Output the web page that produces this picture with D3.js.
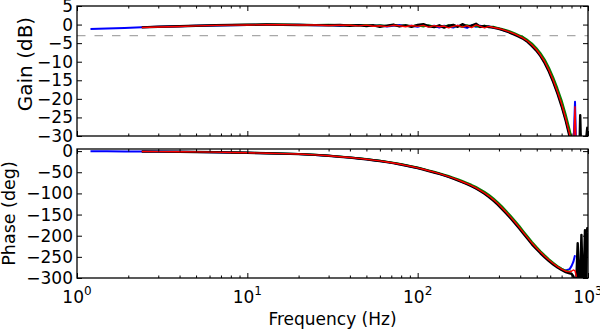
<!DOCTYPE html>
<html><head><meta charset="utf-8">
<script src="https://cdn.jsdelivr.net/npm/d3@7/dist/d3.min.js"></script>
<style>
html,body{margin:0;padding:0;background:#fff;}
text{font-family:"DejaVu Sans",sans-serif;}
</style></head>
<body><svg id="c" width="600" height="330"></svg>
<script>
const freq = [1.2,1.5,1.9,2.4,3,4,5,6.5,8,10, 13,16,20,25,30,35,40,45,50,55, 60,66,72,78,85,92,100,108,116,125, 134,143,152,162,172,183,195,207,220,233, 247,262,278,295,313,332,352,373,395,418, 443,469,497,526,557,590,625,662,700,740, 780,800,820,839,855,870,885,900,915,930, 945,960,975,990,1000];

const gainBlue = [-1.2,-1.05,-0.9,-0.75,-0.6,-0.45,-0.35,-0.25,-0.15,-0.1, -0.05,-0.1,-0.05,-0.2,-0.1,-0.3,-0.2,-0.1,-0.35,-0.3, -0.2,-0.5,-0.3,-0.1,-0.4,-0.3,-0.6,-0.1,-0.5,-0.3, -0.8,-0.3,-0.5,-0.8,-0.3,-0.5,-0.9,-0.2,-0.6,-0.3, -0.7,-0.4,-0.9,-1.0,-1.4,-1.8,-2.2,-2.7,-3.2,-3.8, -4.6,-5.6,-6.9,-8.4,-10.2,-12.5,-15.3,-18.4,-21.8,-25.6, -29.8,-32,-34,-20.8,-36,null,null,null,null,null, null,null,null,null,null];
const gainGreen = [null,null,null,null,null,null,null,null,-0.1,-0.05, 0.0,0.05,-0.05,-0.1,-0.05,-0.2,-0.1,-0.25,-0.1,-0.3, -0.15,-0.4,-0.1,-0.35,-0.15,-0.45,-0.2,-0.5,-0.15,-0.55, -0.3,-0.6,-0.2,-0.5,-0.35,-0.6,-0.2,-0.55,-0.35,-0.7, -0.3,-0.6,-0.6,-0.9,-1.2,-1.5,-1.9,-2.4,-2.9,-3.4, -4.2,-5.1,-6.3,-7.7,-9.4,-11.6,-14.2,-17.2,-20.4,-24.2, -28.3,-30.5,-33,null,null,null,null,null,null,null, null,null,null,null,null];
const gainBlack = [null,null,null,-0.75,-0.6,-0.45,-0.3,-0.2,-0.12,-0.05, 0.0,-0.05,-0.1,-0.15,-0.2,-0.1,-0.3,-0.15,-0.4,-0.2, -0.6,-0.3,0.0,-0.5,-0.2,-0.6,-0.1,0.1,-0.4,-0.7, -0.2,-0.8,-0.3,-0.1,-0.6,0.1,-0.5,-0.3,0.2,-0.6, -0.4,-0.7,-0.8,-1.1,-1.4,-1.8,-2.3,-2.8,-3.3,-3.9, -4.7,-5.8,-7.0,-8.5,-10.4,-12.7,-15.5,-18.6,-22.0,-25.9, -30.2,-33,-36,-34,-38,-36,-40,-24.4,-38,-34, -40,-35,-31,-27.8,-33];
const gainRed = [null,null,null,-0.8,-0.65,-0.5,-0.35,-0.22,-0.15,-0.1, -0.05,-0.02,-0.12,-0.1,-0.25,-0.15,-0.2,-0.35,-0.15,-0.45, -0.3,-0.55,-0.2,-0.3,-0.6,-0.25,-0.5,-0.2,-0.7,-0.3, -0.6,-0.4,-0.9,-0.5,-0.2,-0.7,-0.3,-0.8,-0.1,-0.5, -0.9,-0.5,-0.8,-1.0,-1.3,-1.7,-2.1,-2.6,-3.1,-3.7, -4.5,-5.5,-6.7,-8.2,-10.0,-12.3,-15.0,-18.1,-21.4,-25.3, -29.5,-32,-35,-22.1,-37,null,null,null,null,null, null,null,null,null,null];

const phaseBlue = [-0.5,-0.6,-0.8,-1,-1.2,-1.6,-2,-2.6,-3.2,-4, -5,-6,-7,-9,-11,-13.3,-15.3,-17.3,-19.4,-21.4, -23.4,-25.9,-28.4,-30.8,-33.8,-36.8,-39.8,-43.2,-46.7,-50.2, -53.7,-57.1,-60.6,-64.5,-68.5,-73,-77.4,-82.3,-87.8,-93.7, -100,-107.4,-115.8,-125.2,-135.6,-146.6,-158,-169.6,-181.6,-194, -206.5,-219,-230,-240,-249.5,-258.5,-266.5,-273.5,-279,-282, -279,-272,-262,-246,null,null,null,null,null,null, null,null,null,null,null];
const phaseGreen = [null,null,null,null,null,null,null,null,-3,-3.8, -4.8,-5.8,-6.8,-8.7,-10.7,-12.9,-14.9,-16.9,-18.9,-20.8, -22.8,-25.2,-27.7,-30.1,-33,-35.9,-38.8,-42.2,-45.5,-48.8, -52.2,-55.5,-58.9,-62.6,-66.4,-70.7,-75,-79.6,-84.8,-90.4, -96.4,-103.5,-111.6,-120.8,-131,-142,-153.4,-165,-177,-189.5, -202,-214.5,-226,-236.5,-246.4,-255.8,-264.2,-271.6,-278,-283, -285,-284,null,null,null,null,null,null,null,null, null,null,null,null,null];
const phaseBlack = [null,null,null,-1,-1.3,-1.6,-2,-2.6,-3.2,-4, -5,-6,-7,-9,-11,-13.5,-15.5,-17.5,-19.5,-21.5, -23.5,-26,-28.5,-31,-34,-37,-40,-43.5,-47,-50.5, -54,-57.5,-61,-65,-69,-73.5,-78,-83,-88.5,-94.5, -101,-108.5,-117,-126.5,-137,-148,-159.5,-171,-183,-195.5, -208,-220.5,-231.5,-241.5,-251,-260,-268,-275,-281,-286, -289,-290,-296,-305,-300,-218,-305,-300,-198,-305, -300,-187,-305,-182,-192];
const phaseRed = [null,null,null,-0.9,-1.2,-1.5,-1.9,-2.5,-3.1,-3.9, -4.9,-5.9,-6.9,-8.9,-10.9,-13.2,-15.2,-17.2,-19.3,-21.2, -23.2,-25.7,-28.2,-30.6,-33.6,-36.5,-39.5,-43,-46.4,-49.8, -53.3,-56.7,-60.2,-64,-68,-72.4,-76.8,-81.6,-87,-92.8, -99,-106.3,-114.6,-124,-134.3,-145.3,-156.7,-168.2,-180.2,-192.6, -205,-217.4,-228.6,-238.8,-248.5,-257.6,-265.8,-273,-279.2,-284, -285.5,-284,-281,-283,-297,null,null,null,null,null, null,null,null,null,null];

const gainTicks = [5,0,-5,-10,-15,-20,-25,-30];
const phaseTicks = [0,-50,-100,-150,-200,-250,-300];
const freqTicks = [1,10,100,1000];
const freqTickExp = ["0","1","2","3"];
const cutoffDb = -3;

const series = [
  {name:"blue", color:"#0000ff", w:2, g:gainBlue, p:phaseBlue},
  {name:"green", color:"#008000", w:2, g:gainGreen, p:phaseGreen},
  {name:"black", color:"#000000", w:2.4, g:gainBlack, p:phaseBlack},
  {name:"red", color:"#ff0000", w:1.4, g:gainRed, p:phaseRed}
];

const svg = d3.select("#c");
const L = 77, R = 588;
const x = d3.scaleLog().domain([1,1000]).range([L,R]);
const panels = [
  {top:6, bottom:136, domain:[-30,5], ticks:gainTicks, key:"g", label:"Gain (dB)", xlabels:false, lx:32, ly:64, lfs:"20px"},
  {top:149, bottom:278, domain:[-300,5], ticks:phaseTicks, key:"p", label:"Phase (deg)", xlabels:true, lx:15, ly:213.5, lfs:"17.5px"}
];
const minor = [];
[1,10,100].forEach(d => { for (let k=2;k<10;k++) minor.push(d*k); });
const fmtY = v => (v<0 ? "\u2212"+Math.abs(v) : String(v));

panels.forEach((P,pi) => {
  const y = d3.scaleLinear().domain(P.domain).range([P.bottom,P.top]);
  const g = svg.append("g");
  const cid = "clip"+pi;
  svg.append("clipPath").attr("id",cid).append("rect")
    .attr("x",L).attr("y",P.top).attr("width",R-L).attr("height",P.bottom-P.top);
  const plot = g.append("g").attr("clip-path","url(#"+cid+")");
  if (P.key==="g") {
    plot.append("line").attr("x1",L).attr("x2",R).attr("y1",y(cutoffDb)).attr("y2",y(cutoffDb))
      .attr("stroke","#a8a8a8").attr("stroke-width",1.3).attr("stroke-dasharray","8.5,9");
  }
  series.forEach(s => {
    const vals = s[P.key];
    const line = d3.line().defined((d,i)=>vals[i]!==null).x((d,i)=>x(freq[i])).y((d,i)=>y(vals[i]));
    plot.append("path").datum(freq).attr("d",line).attr("fill","none")
      .attr("stroke",s.color).attr("stroke-width",s.w).attr("stroke-linejoin","round");
  });
  const fs = "17px";
  const ya = g.append("g").attr("transform","translate("+L+",0)")
    .call(d3.axisLeft(y).tickValues(P.ticks).tickSize(-5).tickPadding(4).tickFormat(fmtY));
  ya.select(".domain").remove();
  ya.selectAll("text").attr("font-size",fs).attr("fill","#000").attr("font-family","DejaVu Sans");
  ya.selectAll("line").attr("stroke","#000");
  const yr = g.append("g").attr("transform","translate("+R+",0)")
    .call(d3.axisRight(y).tickValues(P.ticks).tickSize(-5).tickFormat(""));
  yr.select(".domain").remove();
  [[P.bottom, d3.axisBottom],[P.top, d3.axisTop]].forEach(([yy,fn]) => {
    const a = g.append("g").attr("transform","translate(0,"+yy+")")
      .call(fn(x).tickValues(freqTicks).tickSize(-5).tickFormat(""));
    a.select(".domain").remove();
    const m = g.append("g").attr("transform","translate(0,"+yy+")")
      .call(fn(x).tickValues(minor).tickSize(-2.5).tickFormat(""));
    m.select(".domain").remove();
  });
  if (P.xlabels) {
    const lab = g.append("g");
    freqTicks.forEach((t,i) => {
      const tx = lab.append("text").attr("x",x(t)).attr("y",P.bottom+25)
        .attr("text-anchor","middle").attr("font-size",fs);
      tx.append("tspan").text("10");
      tx.append("tspan").attr("dy",-8).attr("font-size","12px").text(freqTickExp[i]);
    });
  }
  g.append("rect").attr("x",L).attr("y",P.top).attr("width",R-L).attr("height",P.bottom-P.top)
    .attr("fill","none").attr("stroke","#000").attr("stroke-width",1.3);
  g.append("text").attr("transform","translate("+P.lx+","+P.ly+") rotate(-90)")
    .attr("text-anchor","middle").attr("font-size",P.lfs).text(P.label);
});
svg.append("text").attr("x",(L+R)/2).attr("y",325).attr("text-anchor","middle")
  .attr("font-size","17px").text("Frequency (Hz)");
</script></body></html>
